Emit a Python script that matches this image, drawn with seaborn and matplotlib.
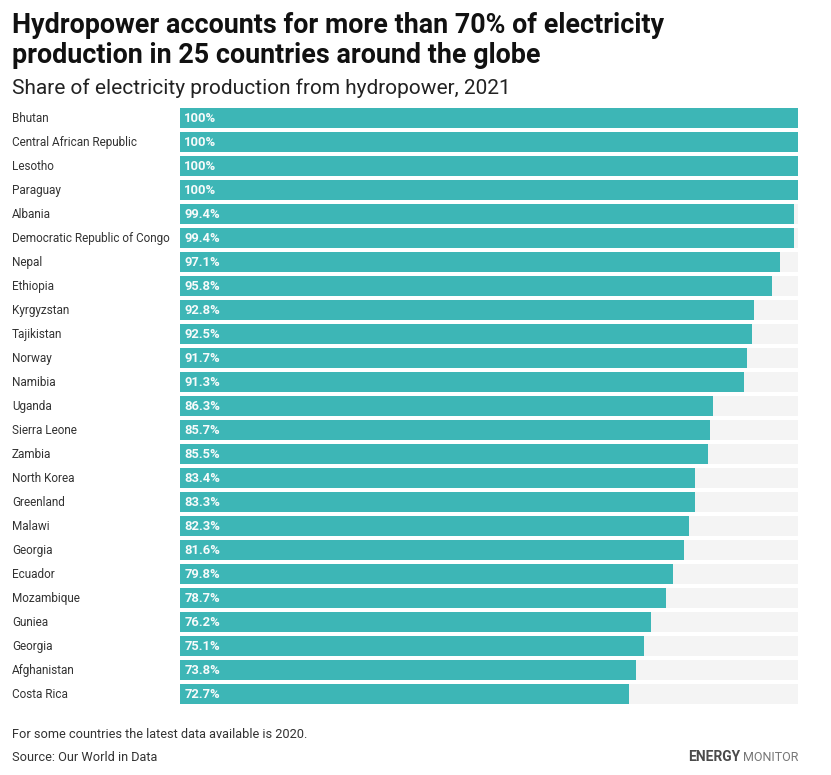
import matplotlib
matplotlib.use('Agg')
import matplotlib.pyplot as plt
from matplotlib.transforms import ScaledTranslation
import seaborn as sns

countries = ['Bhutan', 'Central African Republic', 'Lesotho', 'Paraguay', 'Albania',
             'Democratic Republic of Congo', 'Nepal', 'Ethiopia', 'Kyrgyzstan', 'Tajikistan',
             'Norway', 'Namibia', 'Uganda', 'Sierra Leone', 'Zambia', 'North Korea',
             'Greenland', 'Malawi', 'Georgia', 'Ecuador', 'Mozambique', 'Guniea', 'Georgia',
             'Afghanistan', 'Costa Rica']
shares = [100, 100, 100, 100, 99.4, 99.4, 97.1, 95.8, 92.8, 92.5, 91.7, 91.3, 86.3,
          85.7, 85.5, 83.4, 83.3, 82.3, 81.6, 79.8, 78.7, 76.2, 75.1, 73.8, 72.7]
full_scale = [100] * len(shares)
rows = list(range(len(shares)))  # Georgia shows up twice so plot by row number

sns.set_theme(style='white')
plt.rcParams['font.family'] = ['Roboto', 'DejaVu Sans']

W, H = 831, 775
fig = plt.figure(figsize=(W / 100, H / 100), dpi=100)
ax = fig.add_axes([180 / W, 1 - 706 / H, 618 / W, 600 / H])

# grey track behind, teal share on top
sns.barplot(x=full_scale, y=rows, orient='h', color='#f4f4f4', saturation=1, width=0.833,
            linewidth=0, ax=ax)
sns.barplot(x=shares, y=rows, orient='h', color='#3db6b6', saturation=1, width=0.833,
            linewidth=0, ax=ax)

ax.set_xlim(0, 100)
ax.set_ylim(len(rows) - 0.5, -0.5)
ax.set_xlabel('')
ax.set_ylabel('')
ax.xaxis.set_visible(False)
ax.set_yticks(rows)
ax.set_yticklabels(countries, fontsize=8.45, color='#333333', ha='left')
ax.tick_params(axis='y', length=0, pad=121)
# nudge country names up a pixel
nudge = ScaledTranslation(0, 1 / 100, fig.dpi_scale_trans)
for tick_label in ax.get_yticklabels():
    tick_label.set_transform(tick_label.get_transform() + nudge)
sns.despine(ax=ax, left=True, bottom=True)

for i, val in zip(rows, shares):
    label = f'{val:g}%'
    ax.annotate(label, xy=(0, i), xytext=(3, 0.7), textcoords='offset points', va='center_baseline',
                fontsize=9.4, fontweight='bold', color='#f7fbfb')

fig.text(12 / W, 1 - 33 / H, 'Hydropower accounts for more than 70% of electricity',
         fontsize=19.4, fontweight='bold', color='#111111')
fig.text(12 / W, 1 - 63 / H, 'production in 25 countries around the globe',
         fontsize=19.4, fontweight='bold', color='#111111')
fig.text(12 / W, 1 - 94 / H, 'Share of electricity production from hydropower, 2021',
         fontsize=15.05, color='#222222')
fig.text(12 / W, 1 - 738 / H, 'For some countries the latest data available is 2020.',
         fontsize=9.2, color='#333333')
fig.text(12 / W, 1 - 761 / H, 'Source: Our World in Data', fontsize=9.2, color='#333333')
fig.text(688 / W, 1 - 761 / H, 'ENERGY', fontsize=10, fontweight='bold', color='#4a4a4a')
fig.text(798 / W, 1 - 761 / H, 'MONITOR', fontsize=9, color='#777777', ha='right')

fig.savefig('out.png', dpi=100)
